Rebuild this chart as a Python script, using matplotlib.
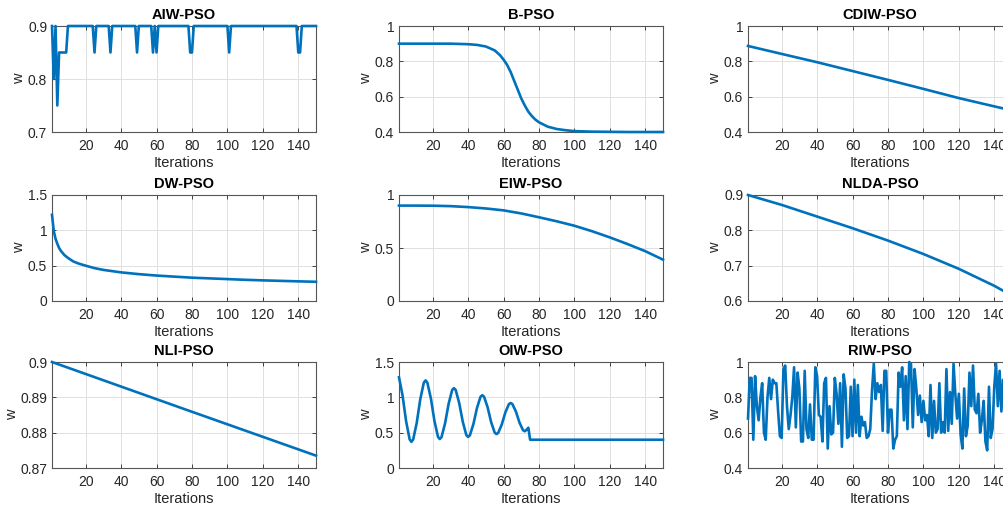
import matplotlib
matplotlib.use("Agg")
import matplotlib.pyplot as plt

plt.rcParams["font.family"] = ["Liberation Sans", "DejaVu Sans"]

# ---- data -----------------------------------------------------------------
aiw_it = [1, 2, 3, 4, 5, 9, 10, 24, 25, 26, 33, 34, 35, 48, 49, 50, 57, 58, 59, 60, 61,
          78, 79, 80, 81, 100, 101, 102, 139, 140, 141, 142, 150]
aiw_w = [0.9, 0.8, 0.9, 0.75, 0.85, 0.85, 0.9, 0.9, 0.85, 0.9, 0.9, 0.85, 0.9, 0.9, 0.85, 0.9,
         0.9, 0.85, 0.9, 0.85, 0.9, 0.9, 0.85, 0.85, 0.9, 0.9, 0.85, 0.9, 0.9, 0.85, 0.85, 0.9, 0.9]

b_it = [1, 10, 20, 30, 40, 45, 50, 55, 58, 60, 62, 64, 66, 68, 70, 72, 74, 76, 78, 80,
        85, 90, 95, 100, 110, 120, 130, 140, 150]
b_w = [0.9, 0.9, 0.9, 0.9, 0.897, 0.893, 0.884, 0.862, 0.835, 0.81, 0.78, 0.74, 0.69, 0.64,
       0.59, 0.55, 0.515, 0.49, 0.47, 0.455, 0.43, 0.417, 0.41, 0.405, 0.402, 0.401, 0.4, 0.4, 0.4]

cdiw_it = [1, 20, 40, 60, 80, 100, 120, 140, 150]
cdiw_w = [0.887, 0.842, 0.795, 0.745, 0.695, 0.644, 0.592, 0.545, 0.522]

dw_it = [1, 2, 3, 4, 5, 6, 8, 10, 13, 16, 20, 25, 30, 40, 50, 60, 70, 80, 90, 100,
         110, 120, 130, 140, 150]
dw_w = [1.22, 0.99, 0.88, 0.81, 0.75, 0.71, 0.65, 0.61, 0.56, 0.53, 0.50, 0.465, 0.44, 0.405,
        0.38, 0.36, 0.345, 0.33, 0.32, 0.31, 0.30, 0.292, 0.285, 0.278, 0.272]

eiw_it = [1, 10, 20, 30, 40, 50, 60, 70, 80, 90, 100, 110, 120, 130, 140, 150]
eiw_w = [0.9, 0.9, 0.899, 0.895, 0.886, 0.873, 0.855, 0.826, 0.79, 0.752, 0.71, 0.658,
         0.6, 0.537, 0.47, 0.39]

nlda_it = [1, 20, 40, 60, 80, 100, 120, 140, 150]
nlda_w = [0.9, 0.872, 0.839, 0.806, 0.771, 0.733, 0.691, 0.643, 0.615]

nli_it = [1, 75, 150]
nli_w = [0.9, 0.8868, 0.8735]

oiw_it = [1, 3, 5, 7, 8, 9, 11, 13, 15, 16, 17, 19, 21, 23, 24, 25, 27, 29, 31, 32,
          33, 35, 37, 39, 40, 41, 43, 45, 47, 48, 49, 51, 53, 55, 56, 57, 59, 61, 63, 64,
          65, 67, 69, 71, 72, 73, 74, 75, 150]
oiw_w = [1.284, 1.027, 0.663, 0.406, 0.37, 0.403, 0.638, 0.972, 1.207, 1.24, 1.208, 0.984,
         0.666, 0.442, 0.41, 0.437, 0.632, 0.908, 1.103, 1.13, 1.104, 0.917, 0.653, 0.466,
         0.44, 0.462, 0.622, 0.848, 1.008, 1.03, 1.009, 0.86, 0.65, 0.501, 0.48, 0.497,
         0.616, 0.784, 0.903, 0.92, 0.905, 0.797, 0.643, 0.535, 0.52, 0.54, 0.57, 0.4, 0.4]

riw_w = [0.68, 0.91, 0.91, 0.56, 0.92, 0.75, 0.67, 0.80, 0.88, 0.60, 0.56, 0.80, 0.91, 0.79,
         0.90, 0.88, 0.88, 0.72, 0.58, 0.57, 0.96, 0.98, 0.75, 0.62, 0.70, 0.80, 0.97, 0.63,
         0.94, 0.85, 0.55, 0.55, 0.95, 0.62, 0.57, 0.76, 0.56, 0.56, 0.97, 0.92, 0.70, 0.69,
         0.55, 0.88, 0.91, 0.51, 0.75, 0.59, 0.60, 0.91, 0.82, 0.65, 0.88, 0.52, 0.93, 0.85,
         0.57, 0.58, 0.86, 0.58, 0.90, 0.60, 0.87, 0.58, 0.69, 0.64, 0.66, 0.57, 0.58, 0.62,
         0.84, 0.99, 0.79, 0.88, 0.83, 0.87, 0.61, 0.95, 0.95, 0.60, 0.73, 0.73, 0.51, 0.56,
         0.58, 0.94, 0.86, 0.97, 0.67, 0.92, 0.62, 1.0, 0.99, 0.63, 0.96, 0.85, 0.70, 0.81,
         0.66, 0.78, 0.67, 0.70, 0.58, 0.87, 0.57, 0.78, 0.60, 0.62, 0.88, 0.60, 0.66, 0.60,
         0.96, 0.61, 0.83, 0.65, 0.99, 0.82, 0.68, 0.82, 0.59, 0.51, 0.85, 0.58, 0.64, 0.94,
         0.75, 0.98, 0.73, 0.71, 0.82, 0.60, 0.67, 0.78, 0.55, 0.50, 0.86, 0.57, 0.62, 0.86,
         0.99, 0.75, 0.95, 0.72, 0.90, 0.70, 0.80, 0.62, 0.88, 0.74]
riw_it = list(range(1, len(riw_w) + 1))

panels = [
    ("AIW-PSO", aiw_it, aiw_w, (0.7, 0.9), [0.7, 0.8, 0.9], ["0.7", "0.8", "0.9"]),
    ("B-PSO", b_it, b_w, (0.4, 1.0), [0.4, 0.6, 0.8, 1.0], ["0.4", "0.6", "0.8", "1"]),
    ("CDIW-PSO", cdiw_it, cdiw_w, (0.4, 1.0), [0.4, 0.6, 0.8, 1.0], ["0.4", "0.6", "0.8", "1"]),
    ("DW-PSO", dw_it, dw_w, (0, 1.5), [0, 0.5, 1, 1.5], ["0", "0.5", "1", "1.5"]),
    ("EIW-PSO", eiw_it, eiw_w, (0, 1), [0, 0.5, 1], ["0", "0.5", "1"]),
    ("NLDA-PSO", nlda_it, nlda_w, (0.6, 0.9), [0.6, 0.7, 0.8, 0.9], ["0.6", "0.7", "0.8", "0.9"]),
    ("NLI-PSO", nli_it, nli_w, (0.87, 0.9), [0.87, 0.88, 0.89, 0.9], ["0.87", "0.88", "0.89", "0.9"]),
    ("OIW-PSO", oiw_it, oiw_w, (0, 1.5), [0, 0.5, 1, 1.5], ["0", "0.5", "1", "1.5"]),
    ("RIW-PSO", riw_it, riw_w, (0.4, 1.0), [0.4, 0.6, 0.8, 1.0], ["0.4", "0.6", "0.8", "1"]),
]

W, H = 1004, 507
col_left = [52, 399, 748]
row_top = [26, 195, 362]
ax_w, ax_h = 264, 106

fig = plt.figure(figsize=(W / 100, H / 100), dpi=100)
for i, (title, it, w, ylim, yt, ytl) in enumerate(panels):
    r, c = divmod(i, 3)
    ax = fig.add_axes([col_left[c] / W, 1 - (row_top[r] + ax_h) / H, ax_w / W, ax_h / H])
    ax.plot(it, w, color="#0072BD", linewidth=1.9, clip_on=False, zorder=3)
    ax.set_xlim(1, 150)
    ax.set_ylim(*ylim)
    ax.set_xticks([20, 40, 60, 80, 100, 120, 140])
    ax.set_yticks(yt)
    ax.set_yticklabels(ytl)
    ax.grid(True, color="#e0e0e0", linewidth=0.7)
    ax.set_axisbelow(True)
    ax.tick_params(direction="in", length=3, width=0.6, top=True, right=True,
                   labelsize=10, colors="#262626")
    ax.tick_params(axis="x", pad=5)
    ax.tick_params(axis="y", pad=3.5)
    for s in ax.spines.values():
        s.set_color("#555555")
        s.set_linewidth(0.8)
    ax.set_title(title, fontsize=10.5, fontweight="bold", pad=5)
    ax.set_xlabel("Iterations", fontsize=10.5, color="#262626", labelpad=2)
    ax.set_ylabel("w", fontsize=10.5, color="#262626", labelpad=1)

fig.savefig("out.png", dpi=100)
